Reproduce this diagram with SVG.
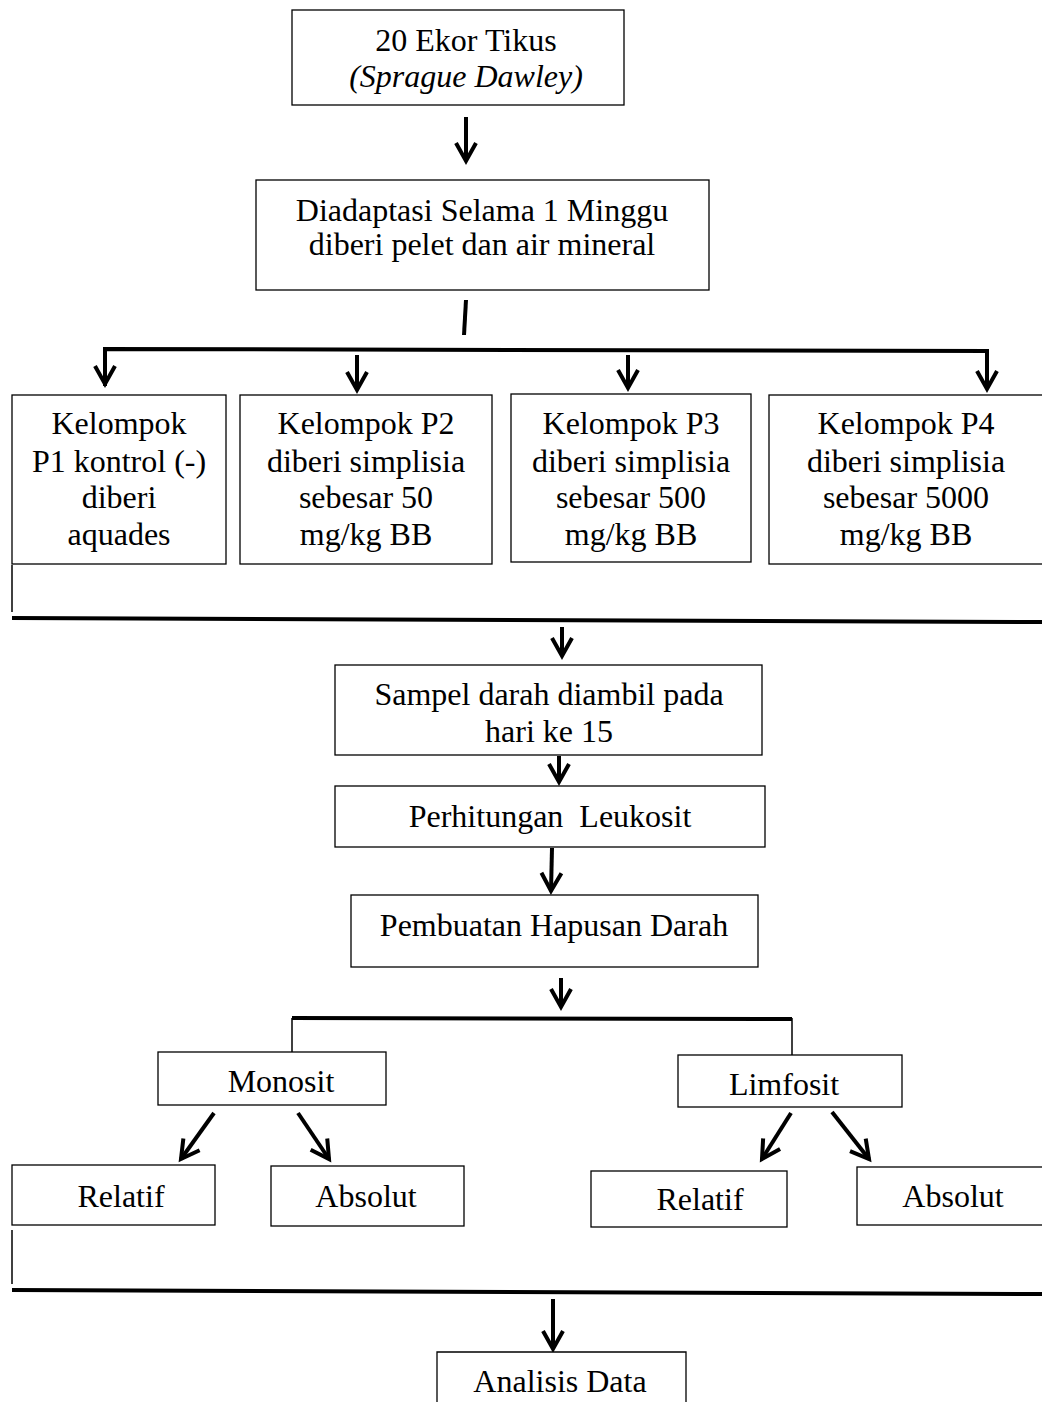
<svg xmlns="http://www.w3.org/2000/svg" width="1042" height="1402" viewBox="0 0 1042 1402">
<style>
.box{fill:#fff;stroke:#000;stroke-width:1.3}
.t{font-family:"Liberation Serif","Times New Roman",serif;font-size:32px;fill:#000;text-anchor:middle}
.i{font-style:italic}
.thick{stroke:#000;stroke-width:4;fill:none}
.thin{stroke:#000;stroke-width:1.5;fill:none}
.arr{stroke:#000;stroke-width:4;fill:none;marker-end:url(#v)}
</style>
<defs>
<marker id="v" markerUnits="userSpaceOnUse" markerWidth="30" markerHeight="30" viewBox="-22 -15 30 30" refX="0" refY="0" orient="auto" overflow="visible">
<path d="M-18,-10 L0,0 L-18,10" fill="none" stroke="#000" stroke-width="4" stroke-linejoin="miter"/>
</marker>
</defs>
<rect width="1042" height="1402" fill="#fff"/>

<g id="connectors">
<line class="arr" x1="466" y1="117" x2="466" y2="161"/>
<line class="thick" x1="466" y1="300" x2="464" y2="335"/>
<polyline class="thick" points="105,386 105,349 989,351"/>
<line class="arr" x1="105" y1="349" x2="105" y2="384"/>
<line class="arr" x1="357" y1="355" x2="357" y2="390"/>
<line class="arr" x1="628" y1="355" x2="628" y2="388"/>
<line class="arr" x1="987" y1="351" x2="987" y2="389"/>
<line class="thin" x1="12" y1="565" x2="12" y2="612"/>
<line class="thick" x1="12" y1="618" x2="1042" y2="622"/>
<line class="arr" x1="562" y1="627" x2="562" y2="656"/>
<line class="arr" x1="559" y1="756" x2="559" y2="782"/>
<line class="arr" x1="552" y1="848" x2="551" y2="891"/>
<line class="arr" x1="561" y1="978" x2="561" y2="1007"/>
<line class="thick" x1="292" y1="1018" x2="792" y2="1019"/>
<line class="thin" x1="292" y1="1018" x2="292" y2="1052"/>
<line class="thin" x1="792" y1="1018" x2="792" y2="1055"/>
<line class="arr" x1="214" y1="1113" x2="181" y2="1159"/>
<line class="arr" x1="298" y1="1113" x2="329" y2="1159"/>
<line class="arr" x1="791" y1="1113" x2="762" y2="1159"/>
<line class="arr" x1="832" y1="1112" x2="869" y2="1159"/>
<line class="thin" x1="12" y1="1230" x2="12" y2="1284"/>
<line class="thick" x1="12" y1="1290" x2="1042" y2="1294"/>
<line class="arr" x1="553" y1="1299" x2="553" y2="1349"/>
</g>

<g id="n1">
<rect class="box" x="292" y="10" width="332" height="95"/>
<text class="t" x="466" y="51">20 Ekor Tikus</text>
<text class="t i" x="466" y="87">(Sprague Dawley)</text>
</g>
<g id="n2">
<rect class="box" x="256" y="180" width="453" height="110"/>
<text class="t" x="482" y="221">Diadaptasi Selama 1 Minggu</text>
<text class="t" x="482" y="255">diberi pelet dan air mineral</text>
</g>
<g id="p1">
<rect class="box" x="12" y="395" width="214" height="169"/>
<text class="t" x="119" y="434">Kelompok</text>
<text class="t" x="119" y="472">P1 kontrol (-)</text>
<text class="t" x="119" y="508">diberi</text>
<text class="t" x="119" y="545">aquades</text>
</g>
<g id="p2">
<rect class="box" x="240" y="395" width="252" height="169"/>
<text class="t" x="366" y="434">Kelompok P2</text>
<text class="t" x="366" y="472">diberi simplisia</text>
<text class="t" x="366" y="508">sebesar 50</text>
<text class="t" x="366" y="545">mg/kg BB</text>
</g>
<g id="p3">
<rect class="box" x="511" y="394" width="240" height="168"/>
<text class="t" x="631" y="434">Kelompok P3</text>
<text class="t" x="631" y="472">diberi simplisia</text>
<text class="t" x="631" y="508">sebesar 500</text>
<text class="t" x="631" y="545">mg/kg BB</text>
</g>
<g id="p4">
<rect class="box" x="769" y="395" width="280" height="169"/>
<text class="t" x="906" y="434">Kelompok P4</text>
<text class="t" x="906" y="472">diberi simplisia</text>
<text class="t" x="906" y="508">sebesar 5000</text>
<text class="t" x="906" y="545">mg/kg BB</text>
</g>
<g id="sampel">
<rect class="box" x="335" y="665" width="427" height="90"/>
<text class="t" x="549" y="705">Sampel darah diambil pada</text>
<text class="t" x="549" y="742">hari ke 15</text>
</g>
<g id="perhitungan">
<rect class="box" x="335" y="786" width="430" height="61"/>
<text class="t" x="550" y="827" xml:space="preserve">Perhitungan  Leukosit</text>
</g>
<g id="pembuatan">
<rect class="box" x="351" y="895" width="407" height="72"/>
<text class="t" x="554" y="936">Pembuatan Hapusan Darah</text>
</g>
<g id="monosit">
<rect class="box" x="158" y="1052" width="228" height="53"/>
<text class="t" x="281" y="1092">Monosit</text>
</g>
<g id="limfosit">
<rect class="box" x="678" y="1055" width="224" height="52"/>
<text class="t" x="784" y="1095">Limfosit</text>
</g>
<g id="relatif1">
<rect class="box" x="12" y="1165" width="203" height="60"/>
<text class="t" x="121" y="1207">Relatif</text>
</g>
<g id="absolut1">
<rect class="box" x="271" y="1166" width="193" height="60"/>
<text class="t" x="366" y="1207">Absolut</text>
</g>
<g id="relatif2">
<rect class="box" x="591" y="1171" width="196" height="56"/>
<text class="t" x="700" y="1210">Relatif</text>
</g>
<g id="absolut2">
<rect class="box" x="857" y="1167" width="190" height="58"/>
<text class="t" x="953" y="1207">Absolut</text>
</g>
<g id="analisis">
<path class="box" d="M437,1402 L437,1352 L686,1352 L686,1402"/>
<text class="t" x="560" y="1392">Analisis Data</text>
</g>
</svg>
